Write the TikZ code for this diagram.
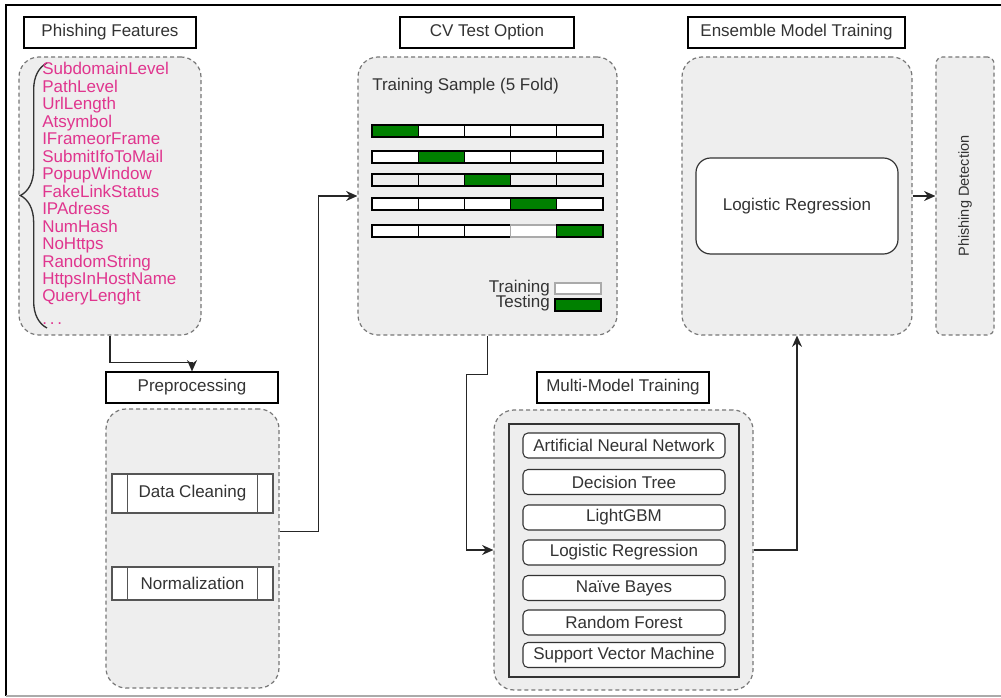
\documentclass[tikz,border=0pt]{standalone}
\usepackage{fontspec}
\setmainfont{Liberation Sans}
\setsansfont{Liberation Sans}
\usepackage{tikz}
\usetikzlibrary{positioning,calc,arrows.meta,decorations.pathreplacing}
\definecolor{groupBG}{HTML}{EEEEEE}
\definecolor{dashGray}{HTML}{777777}
\definecolor{txtGray}{HTML}{333333}
\definecolor{featPink}{HTML}{E0358E}
\definecolor{testGreen}{HTML}{008000}
\definecolor{procGray}{HTML}{555555}
\definecolor{frameGray}{HTML}{AAAAAA}

\begin{document}
\begin{tikzpicture}[
  x=0.75pt, y=-0.75pt,
  title/.style={draw=black, fill=white, line width=0.9pt, minimum height=23.25pt,
    inner sep=0pt, font=\fontsize{12.75}{14}\selectfont, text=txtGray},
  group/.style={draw=dashGray, fill=groupBG, dash pattern=on 3pt off 2.25pt,
    rounded corners=15pt, line width=0.9pt, inner sep=0pt},
  proc/.style={draw=procGray, fill=white, line width=0.9pt, minimum width=120.75pt,
    inner sep=0pt, font=\fontsize{12.75}{14}\selectfont, text=txtGray},
  model/.style={draw=black!80, fill=white, rounded corners=3.75pt, line width=0.8pt,
    minimum width=151.5pt, minimum height=18.75pt, inner sep=0pt,
    font=\fontsize{12.75}{14}\selectfont, text=txtGray},
  cell/.style={draw=black, line width=0.9pt, minimum width=34.65pt, minimum height=9pt, inner sep=0pt},
  feat/.style={font=\fontsize{12.75}{14}\selectfont, text=featPink, inner sep=0pt},
  lbl/.style={font=\fontsize{12.75}{14}\selectfont, text=txtGray, inner sep=0pt},
  arr/.style={-{Stealth[length=8.5pt,width=7.5pt]}, line width=0.9pt, black!85},
]
  \useasboundingbox (0,0) rectangle (1001,698);
  % outer frame
  \draw[line width=1.5pt, black] (1001,5) -- (6,5) -- (6,696);
  \draw[line width=1.5pt, frameGray] (6,696) -- (1001,696);

  % phishing features
  \node[title, minimum width=129pt] (featT) at (110,32.5) {Phishing Features};
  \node[group, minimum width=136.5pt, minimum height=208.5pt] (feat) at (110,196) {};
  \draw[decorate, decoration={brace, amplitude=20pt}, line width=1pt, txtGray] (47,328) -- (47,63);
  \foreach \txt [count=\i] in {SubdomainLevel, PathLevel, UrlLength, Atsymbol, IFrameorFrame,
      SubmitIfoToMail, PopupWindow, FakeLinkStatus, IPAdress, NumHash, NoHttps,
      RandomString, HttpsInHostName, QueryLenght}
    \node[feat, anchor=base west] (feat\i) at (42,{75+17.46*(\i-1)}) {\txt};
  \node[feat, anchor=base west] (featDots) at (42,325) {.\,.\,.};

  % preprocessing
  \node[title, minimum width=129pt] (preT) at (192,387.5) {Preprocessing};
  \node[group, minimum width=129.75pt, minimum height=209.25pt] (pre) at (192.5,548.5) {};
  \node[proc, minimum height=29.25pt] (clean) at (192.5,493.5) {Data Cleaning};
  \node[proc, minimum height=24.75pt] (norm) at (192.5,583.5) {Normalization};
  \foreach \n in {clean,norm} {
    \draw[procGray, line width=0.9pt] ([xshift=12pt]\n.north west) -- ([xshift=12pt]\n.south west);
    \draw[procGray, line width=0.9pt] ([xshift=-12pt]\n.north east) -- ([xshift=-12pt]\n.south east);
  }

  % cross validation
  \node[title, minimum width=130.5pt] (cvT) at (487,32.5) {CV Test Option};
  \node[group, minimum width=194.25pt, minimum height=208.5pt] (cv) at (487.5,196) {};
  \node[lbl, anchor=west] (cvLbl) at (372,86) {Training Sample (5 Fold)};
  \foreach \r/\y in {1/131,2/157,3/180,4/204,5/231}
    \foreach \c in {1,...,5} {
      \ifnum\c=\r \def\cellfill{testGreen}\else
        \ifnum\r=3 \def\cellfill{none}\else \def\cellfill{white}\fi\fi
      \ifnum\r\c=54 \def\celldraw{frameGray}\else \def\celldraw{black}\fi
      \node[cell, fill=\cellfill, draw=\celldraw] (fold\r\c) at ({395.1+46.2*(\c-1)},\y) {};
    }
  \node[cell, fill=white, draw=frameGray, minimum width=34.5pt, minimum height=8.25pt] (keyTrain) at (578,288.5) {};
  \node[cell, fill=testGreen, minimum width=34.5pt] (keyTest) at (578,305) {};
  \node[lbl, anchor=east] (keyTrainLbl) at (550,288) {Training};
  \node[lbl, anchor=east] (keyTestLbl) at (550,303.5) {Testing};

  % multi-model training
  \node[title, minimum width=129pt] (multiT) at (623,387.5) {Multi-Model Training};
  \node[group, minimum width=194.25pt, minimum height=210pt] (multi) at (623.5,550) {};
  \node[draw=black!80, line width=0.9pt, minimum width=172.5pt, minimum height=189.75pt,
    inner sep=0pt] (multiIn) at (624,550.5) {};
  \foreach \m/\y [count=\i] in {Artificial Neural Network/445.5, Decision Tree/482,
      LightGBM/517.5, Logistic Regression/552.5, Na\"ive Bayes/588,
      Random Forest/622.5, Support Vector Machine/655}
    \node[model] (model\i) at (624,\y) {\m};

  % ensemble
  \node[title, minimum width=162.75pt] (ensT) at (796.5,32.5) {Ensemble Model Training};
  \node[group, minimum width=172.5pt, minimum height=208.5pt] (ens) at (797,196) {};
  \node[draw=black!80, fill=white, rounded corners=11pt, line width=0.9pt, minimum width=151.5pt,
    minimum height=72pt, inner sep=0pt, font=\fontsize{12.75}{14}\selectfont, text=txtGray]
    (ensLR) at (797,206) {Logistic Regression};

  % detection
  \node[group, rounded corners=5pt, minimum width=43.5pt, minimum height=208.5pt] (det) at (965,196) {};
  \node[rotate=90, font=\fontsize{10.9}{12}\selectfont, text=txtGray] (detLbl) at (det.center) {Phishing Detection};

  % connectors
  \draw[arr] (feat.south) -- ++(0,27) -| (preT.north);
  \draw[arr] ([yshift=13pt]pre.east) -- ++(39,0) |- (cv.west);
  \draw[arr] (cv.south) -- ++(0,39) -- ++(-21,0) |- (multi.west);
  \draw[arr] (multi.east) -| (ens.south);
  \draw[arr] (ens.east) -- (det.west);
\end{tikzpicture}
\end{document}
